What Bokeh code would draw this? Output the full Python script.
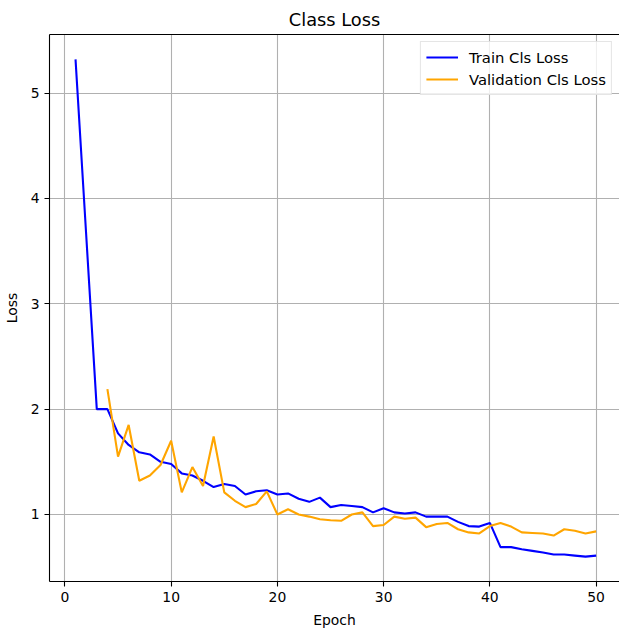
from bokeh.plotting import figure
from bokeh.models import Range1d, LinearAxis, FixedTicker, Legend, LegendItem
from bokeh.embed import file_html
from bokeh.resources import INLINE

epochs = list(range(1, 51))
train_loss = [5.32, 3.66, 2.00, 2.00, 1.77, 1.66, 1.59, 1.57, 1.50, 1.48,
              1.39, 1.37, 1.32, 1.26, 1.29, 1.27, 1.19, 1.22, 1.23, 1.19,
              1.20, 1.15, 1.12, 1.16, 1.07, 1.09, 1.08, 1.07, 1.02, 1.06,
              1.02, 1.01, 1.02, 0.98, 0.98, 0.98, 0.93, 0.89, 0.885, 0.92,
              0.69, 0.69, 0.67, 0.655, 0.64, 0.62, 0.62, 0.61, 0.60, 0.61]
val_epochs = list(range(4, 51))
val_loss = [2.19, 1.55, 1.85, 1.32, 1.37, 1.47, 1.70, 1.21, 1.45, 1.27,
            1.74, 1.21, 1.13, 1.07, 1.10, 1.22, 1.00, 1.05, 1.00, 0.98,
            0.955, 0.945, 0.94, 1.00, 1.02, 0.89, 0.90, 0.98, 0.96, 0.97,
            0.88, 0.91, 0.92, 0.86, 0.83, 0.82, 0.89, 0.92, 0.885, 0.83,
            0.825, 0.82, 0.80, 0.86, 0.845, 0.82, 0.84]
x_ticks = [0, 10, 20, 30, 40, 50]
y_ticks = [1, 2, 3, 4, 5]

FONT = "DejaVu Sans"

p = figure(width=619, height=630, output_backend="svg", toolbar_location=None,
           x_range=Range1d(-1.45, 52.2), y_range=Range1d(0.364, 5.556),
           min_border_left=48, min_border_right=0, min_border_top=34, min_border_bottom=47)
p.outline_line_color = None
p.background_fill_color = "white"
p.border_fill_color = "white"

p.title.text = "Class Loss"
p.title.text_font = FONT
p.title.text_font_size = "17.8px"
p.title.text_font_style = "normal"
p.title.align = "center"
p.title.text_color = "black"
p.title.standoff = 9

for ax, ticks in ((p.xaxis[0], x_ticks), (p.yaxis[0], y_ticks)):
    ax.ticker = FixedTicker(ticks=ticks)
    ax.minor_tick_line_color = None
    ax.major_tick_in = 0
    ax.major_tick_out = 5
    ax.major_tick_line_width = 1.1
    ax.axis_line_width = 1.1
    ax.axis_line_color = "black"
    ax.major_tick_line_color = "black"
    ax.major_label_text_font = FONT
    ax.major_label_text_font_size = "13.9px"
    ax.major_label_text_color = "black"
    ax.major_label_standoff = 5
    ax.axis_label_text_font = FONT
    ax.axis_label_text_font_size = "13.9px"
    ax.axis_label_text_font_style = "normal"
    ax.axis_label_text_color = "black"
    ax.axis_label_standoff = 7

p.xaxis.axis_label = "Epoch"
p.yaxis.axis_label = "Loss"
p.yaxis.axis_label_standoff = 8

top = LinearAxis(ticker=FixedTicker(ticks=[]), major_tick_out=0, major_tick_in=0,
                 minor_tick_line_color=None, axis_line_width=1.1, axis_line_color="black",
                 major_label_text_font_size="0px")
p.add_layout(top, "above")

p.xgrid.ticker = FixedTicker(ticks=x_ticks)
p.ygrid.ticker = FixedTicker(ticks=y_ticks)
p.grid.grid_line_color = "#b0b0b0"
p.grid.grid_line_width = 1.1

r1 = p.line(epochs, train_loss, line_color="blue", line_width=2.1)
r2 = p.line(val_epochs, val_loss, line_color="orange", line_width=2.1)

legend = Legend(items=[LegendItem(label="Train Cls Loss", renderers=[r1]),
                       LegendItem(label="Validation Cls Loss", renderers=[r2])],
                location="top_right", margin=7, padding=5, spacing=2,
                label_height=20, glyph_width=32, glyph_height=18, label_standoff=11,
                label_text_font=FONT, label_text_font_size="14.8px", label_text_color="black",
                border_line_color="#cccccc", border_line_width=1.1,
                background_fill_alpha=0.8)
p.add_layout(legend, "center")

open("out.html", "w").write(file_html(p, INLINE))
